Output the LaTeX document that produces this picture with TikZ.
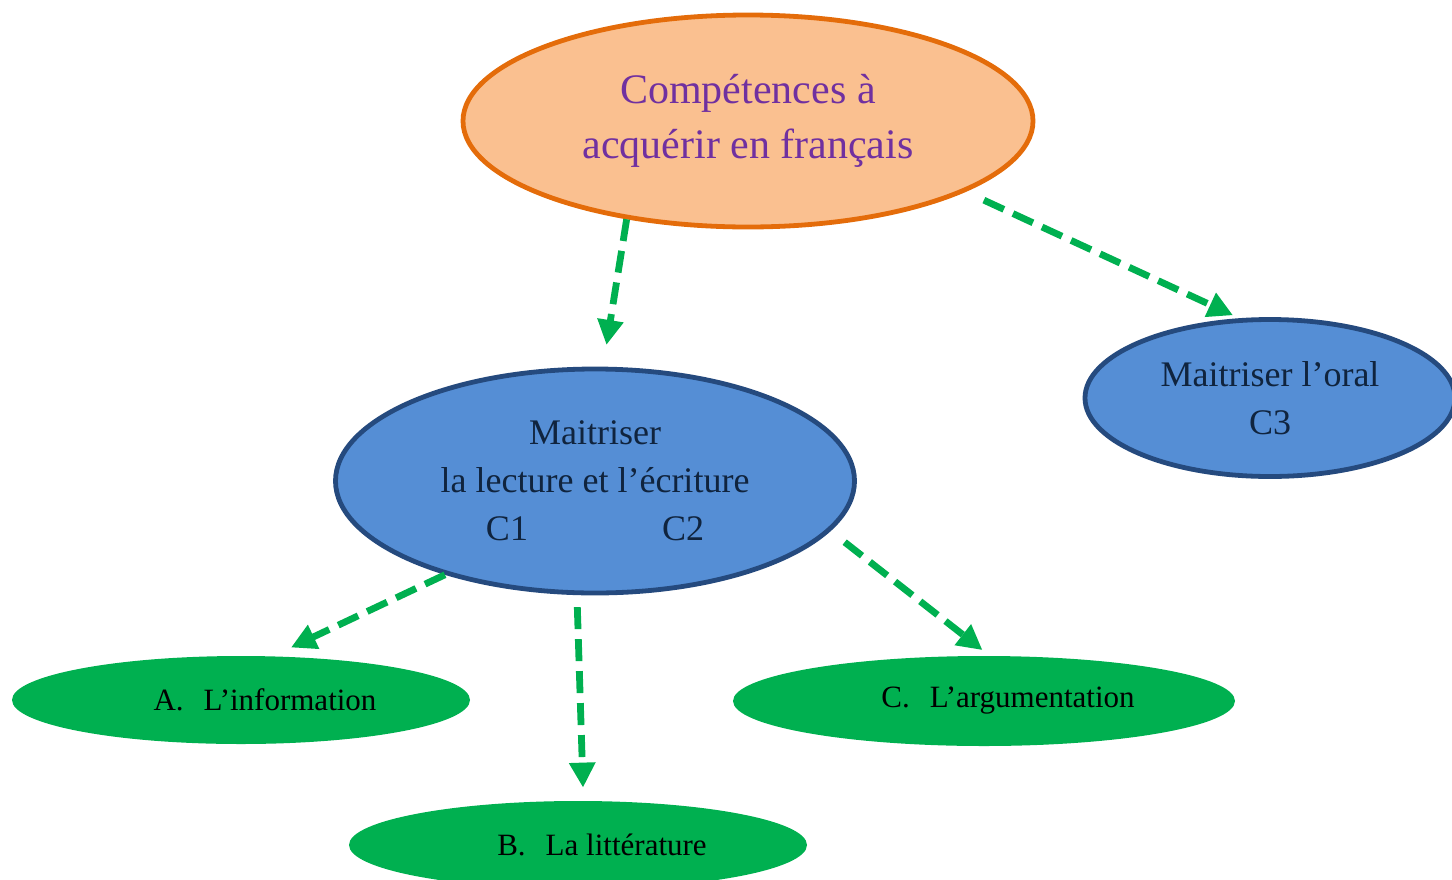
\documentclass[tikz,border=0pt]{standalone}
\usepackage{fontspec}
\setmainfont{Liberation Serif}
\usetikzlibrary{arrows.meta,shapes.geometric}
\definecolor{orfond}{HTML}{FAC090}
\definecolor{orbord}{HTML}{E46C0A}
\definecolor{titre}{HTML}{7030A0}
\definecolor{bleufond}{HTML}{558ED5}
\definecolor{bleubord}{HTML}{254A7E}
\definecolor{bleutexte}{HTML}{10243E}
\definecolor{vert}{HTML}{00B050}
\begin{document}
\begin{tikzpicture}[x=0.5pt,y=-0.5pt,
    every node/.style={ellipse,inner sep=0pt,align=center},
    racine/.style={fill=orfond,draw=orbord,line width=2.4pt,text=titre,
      minimum width=285pt,minimum height=106pt,
      font=\fontsize{21}{27.5}\selectfont},
    branche/.style={fill=bleufond,draw=bleubord,line width=2.4pt,text=bleutexte,
      font=\fontsize{18}{24}\selectfont},
    feuille/.style={fill=vert,text=black,minimum width=229pt,minimum height=44pt,
      font=\fontsize{15.5}{18}\selectfont},
    fleche/.style={draw=vert,line width=3.4pt,dash pattern=on 11pt off 5pt,
      -{Triangle[length=12.5pt,width=12.5pt]}}]
      \useasboundingbox (0,0) rectangle (1452,879);
      \path
        (748,121) node[racine] (comp){Compétences à\\acquérir en français}
        (595,481) node[branche,minimum width=259.5pt,minimum height=112pt] (lect)
          {Maitriser\\la lecture et l’écriture\\C1\hspace{67pt}C2}
        (1270,398) node[branche,minimum width=185pt,minimum height=78.5pt] (oral)
          {Maitriser l’oral\\C3}
        (241,700) node[feuille] (info){\hspace*{24pt}A.\hspace{10pt}L’information}
        (578,845) node[feuille] (litt){\hspace*{24pt}B.\hspace{10pt}La littérature}
        (984,701) node[feuille,minimum width=251pt,minimum height=45pt] (argu)
          {\hspace*{24pt}C.\hspace{10pt}L’argumentation};
      \begin{scope}[fleche]
        \draw[shorten >=11pt] (comp.219.5) to (lect.86);
        \draw[shorten <=10pt,shorten >=3.5pt] (comp.342.4) to (oral.111);
        \draw[shorten >=10pt] (lect.212) to (info.54.4);
        \draw[shorten <=6pt,shorten >=6.5pt] (lect.261) to (litt.83);
        \draw[shorten <=9pt,shorten >=4.5pt] (lect.348.7) to (argu.83.7);
      \end{scope}
    \end{tikzpicture}
\end{document}
